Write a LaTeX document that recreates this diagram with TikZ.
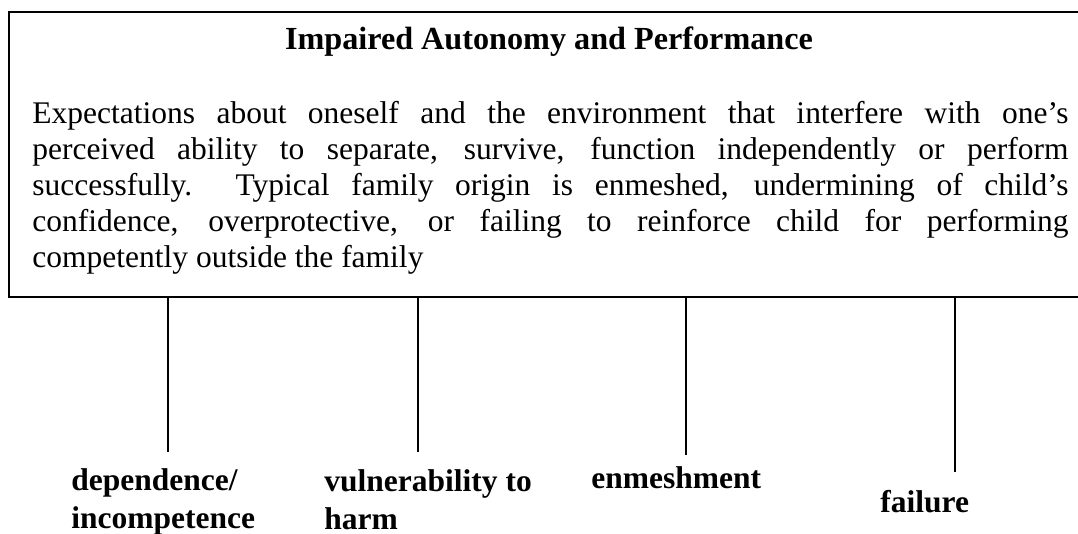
\documentclass[tikz,border=0pt]{standalone}
\usepackage{fontspec}
\setmainfont{Liberation Serif}
\usepackage{tikz}
\usetikzlibrary{positioning}
\newcommand{\schemasize}{\fontsize{15.75pt}{18pt}\selectfont}
\newcommand{\branch}[3] % {name}{x}{y} end of the line under the frame
{
	\coordinate (#1) at (#2,#3);
	\draw [branchline] (schema.south -| #1) -- (#1);
}
\tikzset{
	frame/.style={draw, line width=1.4pt, minimum width=540.5pt, minimum height=142.5pt, inner sep=0pt},
	heading/.style={font=\fontsize{16.1pt}{18pt}\selectfont\bfseries, inner sep=0pt},
	desc/.style={font=\schemasize, text width=518pt, align=justify, inner sep=0pt, anchor=north west},
	schemalabel/.style={font=\schemasize\bfseries, align=left, inner sep=0pt, anchor=north west},
	branchline/.style={line width=1pt}
}

\begin{document}
\begin{tikzpicture}[x=0.5pt, y=-0.5pt]
	\useasboundingbox (0,0) rectangle (1078,534);
	% the schema domain
	\node [frame] (schema) at (549.5,154.5) {};
	\node [heading, anchor=base] (title) at (549,50) {Impaired Autonomy and Performance};
	\node [desc] (text) at (32,101) {Expectations about oneself and the environment that interfere with one’s\linebreak
	perceived ability to separate, survive, function independently or perform\linebreak
	successfully.\ \ Typical family origin is enmeshed, undermining of child’s\linebreak
	confidence, overprotective, or failing to reinforce child for performing\linebreak
	competently outside the family};
	
	\branch{dep}{168}{452}
	\branch{vul}{418}{452}
	\branch{enm}{686}{455}
	\branch{fai}{955}{472}
	
	\node [schemalabel] (dependence) at (71,468) {dependence/\\[1pt]incompetence};
	\node [schemalabel] (vulnerability) at (324,469) {vulnerability to\\[1pt]harm};
	\node [schemalabel] (enmeshment) at (591,466) {enmeshment};
	\node [schemalabel] (failure) at (880,490) {failure};
\end{tikzpicture}
\end{document}
